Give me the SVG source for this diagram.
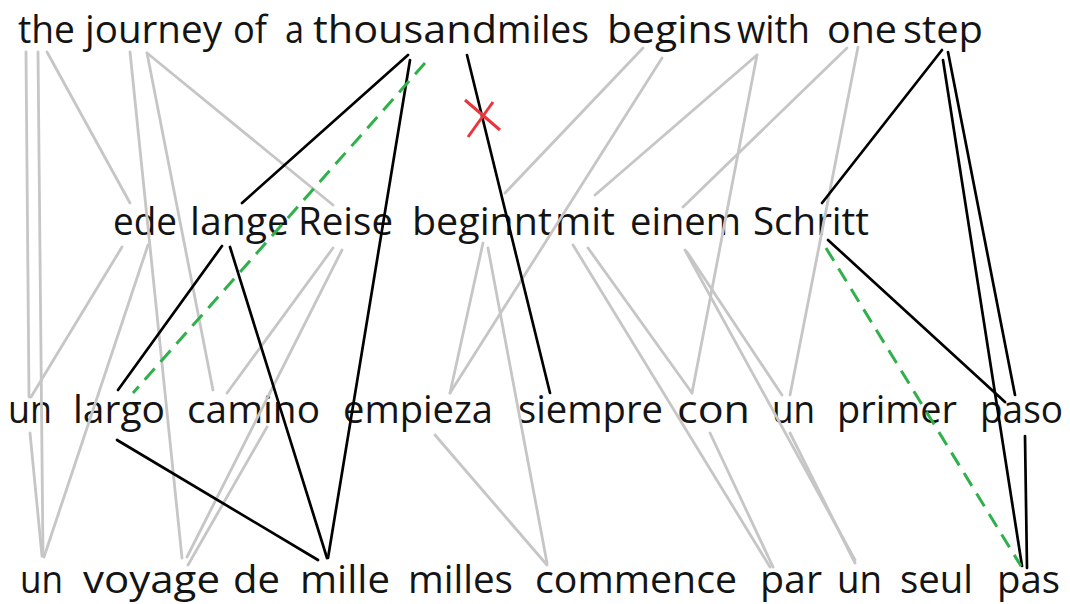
<svg xmlns="http://www.w3.org/2000/svg" width="1070" height="604" viewBox="0 0 1070 604">
<style>
text{font-family:"Open Sans","Noto Sans","DejaVu Sans",sans-serif;font-size:38px;fill:#141414}
.g{stroke:#c6c6c6;stroke-width:2.8;fill:none;stroke-linecap:round}
.b{stroke:#000;stroke-width:2.7;fill:none;stroke-linecap:round}
.d{stroke:#2fb04a;stroke-width:3;fill:none;stroke-dasharray:15 9}
.x{stroke:#e8363c;stroke-width:3;fill:none}
</style>
<rect width="1070" height="604" fill="#fff"/>
<g id="row-en">
<g id="en-the"><text x="18" y="43" textLength="57" lengthAdjust="spacingAndGlyphs">the</text></g>
<g id="en-journey"><text x="85" y="43" textLength="137" lengthAdjust="spacingAndGlyphs">journey</text></g>
<g id="en-of"><text x="233" y="43" textLength="34" lengthAdjust="spacingAndGlyphs">of</text></g>
<g id="en-a"><text x="285" y="43" textLength="19" lengthAdjust="spacingAndGlyphs">a</text></g>
<g id="en-thousand"><text x="313" y="43" textLength="184" lengthAdjust="spacingAndGlyphs">thousand</text></g>
<g id="en-miles"><text x="497" y="43" textLength="92" lengthAdjust="spacingAndGlyphs">miles</text></g>
<g id="en-begins"><text x="607" y="43" textLength="125" lengthAdjust="spacingAndGlyphs">begins</text></g>
<g id="en-with"><text x="737" y="43" textLength="73" lengthAdjust="spacingAndGlyphs">with</text></g>
<g id="en-one"><text x="827" y="43" textLength="70" lengthAdjust="spacingAndGlyphs">one</text></g>
<g id="en-step"><text x="903" y="43" textLength="80" lengthAdjust="spacingAndGlyphs">step</text></g>
</g>
<g id="row-de">
<g id="de-ede"><text x="113" y="235" textLength="64" lengthAdjust="spacingAndGlyphs">ede</text></g>
<g id="de-lange"><text x="190" y="235" textLength="99" lengthAdjust="spacingAndGlyphs">lange</text></g>
<g id="de-Reise"><text x="298" y="235" textLength="95" lengthAdjust="spacingAndGlyphs">Reise</text></g>
<g id="de-beginnt"><text x="412" y="235" textLength="140" lengthAdjust="spacingAndGlyphs">beginnt</text></g>
<g id="de-mit"><text x="555" y="235" textLength="60" lengthAdjust="spacingAndGlyphs">mit</text></g>
<g id="de-einem"><text x="630" y="235" textLength="111" lengthAdjust="spacingAndGlyphs">einem</text></g>
<g id="de-Schritt"><text x="753" y="235" textLength="116" lengthAdjust="spacingAndGlyphs">Schritt</text></g>
</g>
<g id="row-es">
<g id="es-un1"><text x="8" y="423" textLength="44" lengthAdjust="spacingAndGlyphs">un</text></g>
<g id="es-largo"><text x="73" y="423" textLength="92" lengthAdjust="spacingAndGlyphs">largo</text></g>
<g id="es-camino"><text x="187" y="423" textLength="133" lengthAdjust="spacingAndGlyphs">camino</text></g>
<g id="es-empieza"><text x="343" y="423" textLength="150" lengthAdjust="spacingAndGlyphs">empieza</text></g>
<g id="es-siempre"><text x="518" y="423" textLength="145" lengthAdjust="spacingAndGlyphs">siempre</text></g>
<g id="es-con"><text x="677" y="423" textLength="73" lengthAdjust="spacingAndGlyphs">con</text></g>
<g id="es-un2"><text x="772" y="423" textLength="43" lengthAdjust="spacingAndGlyphs">un</text></g>
<g id="es-primer"><text x="837" y="423" textLength="120" lengthAdjust="spacingAndGlyphs">primer</text></g>
<g id="es-paso"><text x="980" y="423" textLength="83" lengthAdjust="spacingAndGlyphs">paso</text></g>
</g>
<g id="row-fr">
<g id="fr-un1"><text x="20" y="593" textLength="43" lengthAdjust="spacingAndGlyphs">un</text></g>
<g id="fr-voyage"><text x="83" y="593" textLength="137" lengthAdjust="spacingAndGlyphs">voyage</text></g>
<g id="fr-de"><text x="233" y="593" textLength="47" lengthAdjust="spacingAndGlyphs">de</text></g>
<g id="fr-mille"><text x="300" y="593" textLength="90" lengthAdjust="spacingAndGlyphs">mille</text></g>
<g id="fr-milles"><text x="408" y="593" textLength="105" lengthAdjust="spacingAndGlyphs">milles</text></g>
<g id="fr-commence"><text x="535" y="593" textLength="202" lengthAdjust="spacingAndGlyphs">commence</text></g>
<g id="fr-par"><text x="760" y="593" textLength="62" lengthAdjust="spacingAndGlyphs">par</text></g>
<g id="fr-un2"><text x="837" y="593" textLength="45" lengthAdjust="spacingAndGlyphs">un</text></g>
<g id="fr-seul"><text x="900" y="593" textLength="73" lengthAdjust="spacingAndGlyphs">seul</text></g>
<g id="fr-pas"><text x="997" y="593" textLength="63" lengthAdjust="spacingAndGlyphs">pas</text></g>
</g>
<g id="connectors">
<g id="gray-links">
<line class="g" x1="26" y1="52" x2="29" y2="397"/>
<line class="g" x1="38" y1="52" x2="43" y2="556"/>
<line class="g" x1="47" y1="52" x2="130" y2="203"/>
<line class="g" x1="130" y1="52" x2="182" y2="558"/>
<line class="g" x1="147" y1="53" x2="213" y2="390"/>
<line class="g" x1="147" y1="53" x2="333" y2="205"/>
<line class="g" x1="643" y1="48" x2="505" y2="193"/>
<line class="g" x1="662" y1="58" x2="450" y2="393"/>
<line class="g" x1="757" y1="55" x2="595" y2="195"/>
<line class="g" x1="757" y1="55" x2="692" y2="393"/>
<line class="g" x1="847" y1="48" x2="683" y2="207"/>
<line class="g" x1="858" y1="47" x2="790" y2="395"/>
<line class="g" x1="122" y1="247" x2="31" y2="397"/>
<line class="g" x1="148" y1="245" x2="44" y2="557"/>
<line class="g" x1="333" y1="248" x2="227" y2="393"/>
<line class="g" x1="342" y1="250" x2="187" y2="557"/>
<line class="g" x1="483" y1="243" x2="450" y2="393"/>
<line class="g" x1="488" y1="248" x2="547" y2="563"/>
<line class="g" x1="588" y1="248" x2="692" y2="393"/>
<line class="g" x1="573" y1="245" x2="770" y2="567"/>
<line class="g" x1="687" y1="252" x2="782" y2="395"/>
<line class="g" x1="685" y1="250" x2="855" y2="560"/>
<line class="g" x1="30" y1="433" x2="42" y2="556"/>
<line class="g" x1="267" y1="427" x2="188" y2="565"/>
<line class="g" x1="435" y1="435" x2="547" y2="565"/>
<line class="g" x1="710" y1="433" x2="773" y2="567"/>
<line class="g" x1="790" y1="433" x2="855" y2="563"/>
</g>
<g id="black-links">
<line class="b" x1="408" y1="55" x2="242" y2="203"/>
<line class="b" x1="410" y1="60" x2="328" y2="558"/>
<line class="b" x1="222" y1="246" x2="118" y2="390"/>
<line class="b" x1="230" y1="247" x2="327" y2="558"/>
<line class="b" x1="117" y1="440" x2="318" y2="560"/>
<line class="b" x1="467" y1="55" x2="550" y2="393"/>
<line class="b" x1="942" y1="50" x2="822" y2="203"/>
<line class="b" x1="943" y1="60" x2="1022" y2="566"/>
<line class="b" x1="948" y1="52" x2="1015" y2="395"/>
<line class="b" x1="828" y1="240" x2="1005" y2="402"/>
<line class="b" x1="1025" y1="436" x2="1027" y2="568"/>
</g>
<g id="dashed-links">
<line class="d" x1="425" y1="63" x2="133" y2="393"/>
<line class="d" x1="826" y1="248" x2="1021" y2="566"/>
</g>
<g id="cross-mark">
<line class="x" x1="465" y1="100" x2="500" y2="130"/>
<line class="x" x1="468" y1="137" x2="493" y2="102"/>
</g>
</g>
</svg>
